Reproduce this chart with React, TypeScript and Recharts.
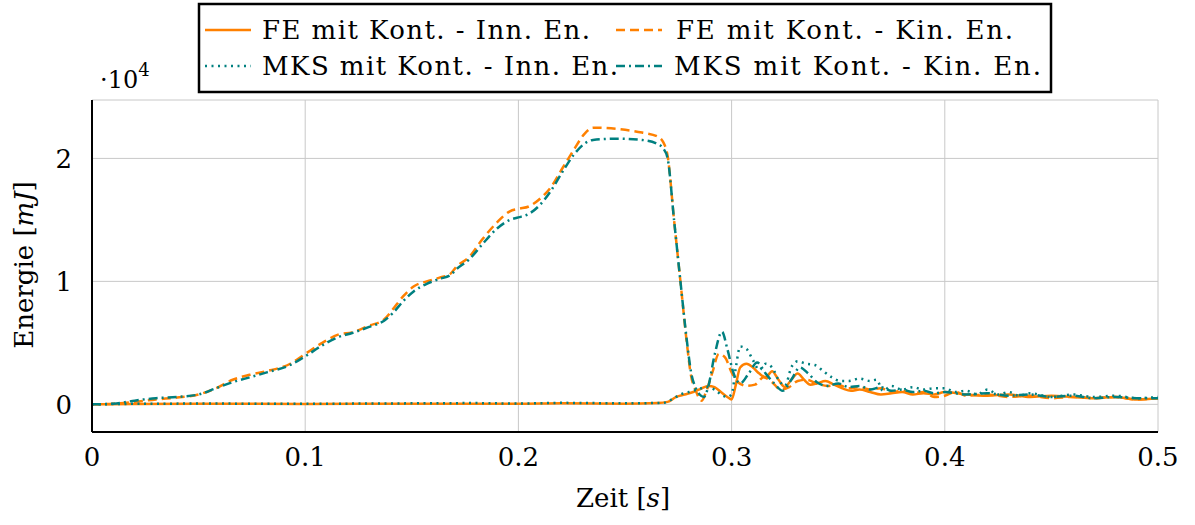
import React from "react";
import { LineChart, Line, XAxis, YAxis, CartesianGrid } from "recharts";

// energies in units of 10^4 mJ, time in s
const feInnT = [0, 0.02, 0.05, 0.1, 0.15, 0.2, 0.22, 0.25, 0.265, 0.27, 0.274, 0.278, 0.282, 0.286, 0.289, 0.292, 0.295, 0.298, 0.3, 0.302, 0.304, 0.307, 0.31, 0.313, 0.316, 0.319, 0.322, 0.325, 0.328, 0.331, 0.334, 0.337, 0.34, 0.344, 0.348, 0.352, 0.356, 0.36, 0.365, 0.37, 0.375, 0.38, 0.385, 0.39, 0.395, 0.4, 0.41, 0.42, 0.43, 0.44, 0.45, 0.46, 0.47, 0.48, 0.49, 0.5];
const feInnE = [0, 0.003, 0.005, 0.003, 0.005, 0.004, 0.008, 0.004, 0.01, 0.02, 0.06, 0.08, 0.1, 0.13, 0.15, 0.14, 0.1, 0.06, 0.04, 0.16, 0.3, 0.33, 0.3, 0.25, 0.22, 0.27, 0.2, 0.14, 0.2, 0.25, 0.2, 0.16, 0.17, 0.19, 0.16, 0.13, 0.11, 0.12, 0.1, 0.08, 0.09, 0.1, 0.08, 0.09, 0.08, 0.1, 0.08, 0.07, 0.08, 0.06, 0.07, 0.06, 0.05, 0.06, 0.04, 0.05];

const feKinT = [0, 0.01, 0.02, 0.03, 0.04, 0.05, 0.058, 0.066, 0.074, 0.082, 0.093, 0.1, 0.108, 0.116, 0.122, 0.13, 0.137, 0.141, 0.146, 0.151, 0.157, 0.163, 0.168, 0.171, 0.177, 0.183, 0.19, 0.196, 0.2, 0.205, 0.21, 0.215, 0.221, 0.226, 0.231, 0.235, 0.246, 0.258, 0.265, 0.268, 0.27, 0.273, 0.276, 0.279, 0.281, 0.283, 0.286, 0.288, 0.291, 0.294, 0.297, 0.3, 0.303, 0.307, 0.311, 0.315, 0.319, 0.323, 0.327, 0.331, 0.335, 0.34, 0.345, 0.35, 0.355, 0.36, 0.365, 0.37, 0.375, 0.38, 0.385, 0.39, 0.395, 0.4, 0.405, 0.41, 0.42, 0.43, 0.44, 0.45, 0.46, 0.47, 0.48, 0.49, 0.5];
const feKinE = [0, 0.005, 0.02, 0.04, 0.055, 0.08, 0.13, 0.2, 0.24, 0.27, 0.33, 0.41, 0.5, 0.57, 0.585, 0.64, 0.69, 0.77, 0.88, 0.96, 1.0, 1.03, 1.06, 1.12, 1.2, 1.34, 1.48, 1.57, 1.59, 1.61, 1.67, 1.76, 1.93, 2.07, 2.2, 2.25, 2.24, 2.21, 2.18, 2.13, 2.02, 1.5, 1.0, 0.5, 0.23, 0.12, 0.03, 0.1, 0.26, 0.41, 0.38, 0.26, 0.18, 0.15, 0.16, 0.22, 0.18, 0.12, 0.14, 0.19, 0.2, 0.17, 0.15, 0.16, 0.13, 0.14, 0.12, 0.13, 0.1, 0.11, 0.09, 0.1, 0.06, 0.07, 0.1, 0.07, 0.08, 0.06, 0.07, 0.05, 0.06, 0.05, 0.06, 0.04, 0.05];

const mksInnT = [0, 0.02, 0.05, 0.1, 0.15, 0.18, 0.2, 0.22, 0.25, 0.268, 0.272, 0.276, 0.28, 0.284, 0.288, 0.292, 0.295, 0.298, 0.3, 0.302, 0.304, 0.307, 0.31, 0.313, 0.316, 0.319, 0.322, 0.325, 0.328, 0.331, 0.335, 0.339, 0.343, 0.347, 0.351, 0.355, 0.36, 0.365, 0.368, 0.371, 0.375, 0.38, 0.385, 0.39, 0.395, 0.4, 0.405, 0.41, 0.415, 0.42, 0.425, 0.43, 0.435, 0.44, 0.45, 0.46, 0.47, 0.48, 0.49, 0.5];
const mksInnE = [0, 0.004, 0.006, 0.005, 0.008, 0.01, 0.006, 0.012, 0.008, 0.012, 0.04, 0.08, 0.1, 0.12, 0.14, 0.12, 0.08, 0.06, 0.08, 0.3, 0.47, 0.45, 0.36, 0.28, 0.33, 0.3, 0.2, 0.15, 0.3, 0.35, 0.33, 0.32, 0.27, 0.22, 0.19, 0.19, 0.21, 0.19, 0.2, 0.11, 0.15, 0.12, 0.14, 0.12, 0.13, 0.13, 0.1, 0.11, 0.08, 0.12, 0.08, 0.1, 0.07, 0.09, 0.06, 0.08, 0.06, 0.07, 0.05, 0.06];

const mksKinT = [0, 0.01, 0.02, 0.03, 0.04, 0.05, 0.058, 0.066, 0.074, 0.082, 0.093, 0.1, 0.108, 0.116, 0.122, 0.13, 0.137, 0.141, 0.146, 0.151, 0.157, 0.163, 0.168, 0.171, 0.177, 0.183, 0.19, 0.196, 0.2, 0.205, 0.21, 0.215, 0.221, 0.226, 0.231, 0.235, 0.246, 0.258, 0.265, 0.268, 0.27, 0.273, 0.276, 0.279, 0.281, 0.283, 0.285, 0.287, 0.289, 0.292, 0.2955, 0.298, 0.301, 0.304, 0.308, 0.312, 0.316, 0.32, 0.324, 0.328, 0.332, 0.336, 0.34, 0.345, 0.35, 0.355, 0.36, 0.365, 0.37, 0.375, 0.38, 0.385, 0.39, 0.395, 0.4, 0.41, 0.42, 0.43, 0.44, 0.45, 0.46, 0.47, 0.48, 0.49, 0.5];
const mksKinE = [0, 0.005, 0.03, 0.05, 0.06, 0.08, 0.13, 0.18, 0.22, 0.26, 0.32, 0.39, 0.48, 0.55, 0.58, 0.63, 0.68, 0.74, 0.84, 0.92, 0.98, 1.02, 1.05, 1.1, 1.18, 1.3, 1.43, 1.5, 1.52, 1.55, 1.62, 1.73, 1.9, 2.03, 2.12, 2.15, 2.16, 2.15, 2.12, 2.08, 2.0, 1.5, 1.0, 0.52, 0.26, 0.14, 0.08, 0.06, 0.14, 0.4, 0.59, 0.45, 0.25, 0.17, 0.25, 0.34, 0.25, 0.17, 0.11, 0.2, 0.3, 0.25, 0.18, 0.15, 0.17, 0.14, 0.15, 0.12, 0.14, 0.11, 0.12, 0.1, 0.11, 0.09, 0.1, 0.08, 0.09, 0.07, 0.08, 0.06, 0.07, 0.05, 0.06, 0.05, 0.05];

const xTicks = [0, 0.1, 0.2, 0.3, 0.4, 0.5];
const yTicks = [0, 1, 2];

const zip = (t: number[], e: number[]) => t.map((x, i) => ({ t: x, e: e[i] }));

const ORANGE = "#ff8000";
const TEAL = "#008080";
const FONT = "DejaVu Serif";

const series = [
  { name: "FE mit Kont. - Inn. En.", data: zip(feInnT, feInnE), color: ORANGE, dash: undefined },
  { name: "FE mit Kont. - Kin. En.", data: zip(feKinT, feKinE), color: ORANGE, dash: "9 5" },
  { name: "MKS mit Kont. - Inn. En.", data: zip(mksInnT, mksInnE), color: TEAL, dash: "2 4.5" },
  { name: "MKS mit Kont. - Kin. En.", data: zip(mksKinT, mksKinE), color: TEAL, dash: "9 4 2 4" },
];

// legend slot: symbol start, text start, text length, row centre
const legendPos = [
  { x: 205, tx: 262, len: 328, y: 30 },
  { x: 616, tx: 676, len: 337, y: 30 },
  { x: 205, tx: 262, len: 356, y: 66 },
  { x: 616, tx: 674, len: 367, y: 66 },
];

export default function App() {
  return (
    <div style={{ position: "absolute", left: 0, top: 0, width: 1195, height: 525, background: "#fff" }}>
      <LineChart width={1195} height={525} margin={{ top: 100, right: 37, bottom: 33, left: 0 }}>
        <CartesianGrid stroke="#c8c8c8" strokeWidth={1} />
        <XAxis
          dataKey="t"
          type="number"
          domain={[0, 0.5]}
          ticks={xTicks}
          allowDuplicatedCategory={false}
          height={60}
          tickLine={false}
          tickMargin={10}
          axisLine={{ stroke: "#000", strokeWidth: 2 }}
          tick={{ fill: "#000", fontFamily: FONT, fontSize: 26 }}
          tickFormatter={(v: number) => String(v)}
        />
        <XAxis xAxisId="top" orientation="top" type="number" domain={[0, 0.5]} height={0} tick={false} tickLine={false} axisLine={{ stroke: "#000", strokeWidth: 2 }} />
        <YAxis
          type="number"
          domain={[-0.225, 2.475]}
          ticks={yTicks}
          width={92}
          tickLine={false}
          tickMargin={14}
          axisLine={{ stroke: "#000", strokeWidth: 2 }}
          tick={{ fill: "#000", fontFamily: FONT, fontSize: 26 }}
        />
        <YAxis yAxisId="right" orientation="right" type="number" domain={[-0.225, 2.475]} width={0} tick={false} tickLine={false} axisLine={{ stroke: "#000", strokeWidth: 2 }} />
        {series.map((s) => (
          <Line
            key={s.name}
            data={s.data}
            dataKey="e"
            name={s.name}
            type="monotone"
            stroke={s.color}
            strokeWidth={2.5}
            strokeDasharray={s.dash}
            dot={false}
            isAnimationActive={false}
          />
        ))}
      </LineChart>
      <svg width={1195} height={525} style={{ position: "absolute", left: 0, top: 0, pointerEvents: "none" }}>
        <rect x={199} y={4} width={852} height={88} fill="#fff" stroke="#000" strokeWidth={2.5} />
        {series.map((s, i) => (
          <g key={s.name}>
            <line x1={legendPos[i].x} x2={legendPos[i].x + 46} y1={legendPos[i].y} y2={legendPos[i].y} stroke={s.color} strokeWidth={2.5} strokeDasharray={s.dash} />
            <text x={legendPos[i].tx} y={legendPos[i].y + 9} fontFamily={FONT} fontSize={26} fill="#000" textLength={legendPos[i].len}>
              {s.name}
            </text>
          </g>
        ))}
        <text x={100} y={88} fontFamily={FONT} fontSize={24} fill="#000">
          ·10<tspan dy={-12} fontSize={18}>4</tspan>
        </text>
        <text transform="translate(33,265) rotate(-90)" textAnchor="middle" fontFamily={FONT} fontSize={26} fill="#000">
          Energie [<tspan fontStyle="italic">mJ</tspan>]
        </text>
        <text x={623} y={507} textAnchor="middle" fontFamily={FONT} fontSize={26} fill="#000">
          Zeit [<tspan fontStyle="italic">s</tspan>]
        </text>
      </svg>
    </div>
  );
}
